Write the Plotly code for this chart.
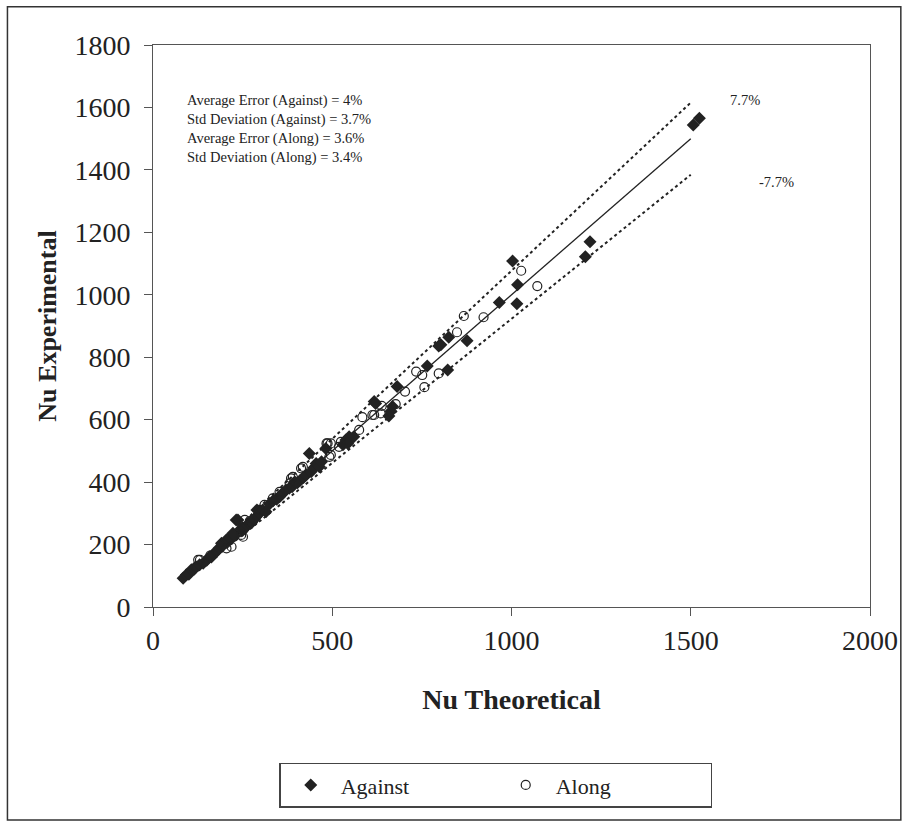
import plotly.graph_objects as go

# Against (filled diamonds)
against_x = [84, 93, 100, 107, 115, 120, 130, 140, 150, 158, 163, 168, 177, 185, 191, 198, 205, 212, 215,
             223, 228, 232, 237, 245, 250, 256, 262, 269, 275, 282, 288, 290, 297, 306, 315, 325, 335, 345,
             353, 357, 362, 371, 380, 388, 395, 403, 410, 420, 427, 436, 441, 448, 455, 460, 464, 470, 482,
             530, 538, 543, 547, 552, 543, 560, 617, 621, 658, 663, 668, 681, 765, 797, 803, 825, 876, 822,
             966, 1003, 1015, 1017, 1206, 1219, 1507, 1524]
against_y = [92, 103, 105, 119, 122, 128, 135, 140, 150, 161, 160, 170, 177, 190, 204, 200, 215, 212, 222,
             236, 228, 279, 279, 250, 245, 252, 262, 268, 270, 280, 289, 311, 300, 311, 305, 330, 340, 345,
             353, 359, 364, 375, 380, 385, 400, 398, 405, 415, 423, 492, 433, 445, 460, 455, 449, 465, 508,
             520, 535, 529, 545, 540, 524, 545, 658, 652, 612, 626, 642, 706, 772, 836, 840, 864, 853, 759,
             975, 1108, 971, 1032, 1122, 1170, 1544, 1565]

# Along (open circles)
along_x = [121, 126, 131, 160, 205, 219, 246, 251, 256, 270, 297, 311, 334, 353, 381, 385, 390, 413, 418,
           484, 487, 492, 496, 496, 519, 524, 575, 584, 612, 617, 635, 638, 677, 703, 734, 751, 757, 797,
           848, 867, 922, 1027, 1072]
along_y = [129, 151, 151, 165, 188, 193, 231, 225, 279, 275, 311, 327, 348, 369, 396, 412, 417, 444, 449,
           524, 524, 481, 487, 524, 513, 529, 567, 608, 615, 615, 620, 644, 650, 690, 754, 743, 704, 748,
           880, 932, 928, 1077, 1028]

line_x = [80, 1500]
band_x = [100, 1500]
band_pct = 0.077

stats_lines = ["Average Error (Against) = 4%", "Std Deviation (Against) = 3.7%",
               "Average Error (Along) = 3.6%", "Std Deviation (Along) = 3.4%"]

x_ticks = [0, 500, 1000, 1500, 2000]
y_ticks = [0, 200, 400, 600, 800, 1000, 1200, 1400, 1600, 1800]

FONT = "Liberation Serif"
INK = "#222222"

fig = go.Figure()

fig.add_trace(go.Scatter(x=line_x, y=line_x, mode="lines", line=dict(color=INK, width=1.3),
                         showlegend=False, hoverinfo="skip"))
fig.add_trace(go.Scatter(x=band_x, y=[v * (1 + band_pct) for v in band_x], mode="lines",
                         line=dict(color=INK, width=2, dash="dot"), showlegend=False, hoverinfo="skip"))
fig.add_trace(go.Scatter(x=band_x, y=[v * (1 - band_pct) for v in band_x], mode="lines",
                         line=dict(color=INK, width=2, dash="dot"), showlegend=False, hoverinfo="skip"))

fig.add_trace(go.Scatter(x=against_x, y=against_y, mode="markers", name="Against",
                         marker=dict(symbol="diamond", size=10, color=INK, line=dict(width=0))))
fig.add_trace(go.Scatter(x=along_x, y=along_y, mode="markers", name="Along",
                         marker=dict(symbol="circle-open", size=9, color=INK, line=dict(width=1.2, color=INK))))

fig.add_annotation(x=0.045, y=0.92, xref="paper", yref="paper", xanchor="left", yanchor="top",
                   text="<br>".join(stats_lines), showarrow=False, align="left",
                   font=dict(family=FONT, size=14.5, color=INK))
fig.add_annotation(x=1650, y=1625, text="7.7%", showarrow=False, font=dict(family=FONT, size=14.5, color=INK))
fig.add_annotation(x=1738, y=1360, text="-7.7%", showarrow=False, font=dict(family=FONT, size=14.5, color=INK))

# outer frame
fig.add_shape(type="rect", xref="paper", yref="paper", x0=-0.203, x1=1.043, y0=-0.379, y1=1.068,
              line=dict(color="#333333", width=1.5), layer="below")

axis_common = dict(showgrid=False, zeroline=False, showline=True, linecolor="#555555", linewidth=1,
                   mirror=True, ticks="outside", ticklen=8, tickcolor="#555555",
                   tickfont=dict(family=FONT, size=28, color=INK))

fig.update_layout(
    width=910, height=827,
    paper_bgcolor="white", plot_bgcolor="white",
    margin=dict(l=153, r=38, t=45, b=220),
    xaxis=dict(range=[0, 2000], tickvals=x_ticks, **axis_common,
               title=dict(text="<b>Nu Theoretical</b>", font=dict(family=FONT, size=28, color=INK), standoff=34)),
    yaxis=dict(range=[0, 1800], tickvals=y_ticks, **axis_common, ticklabelstandoff=8,
               title=dict(text="<b>Nu Experimental</b>", font=dict(family=FONT, size=26, color=INK), standoff=10)),
    legend=dict(orientation="h", x=0.478, y=-0.317, xanchor="center", yanchor="middle",
                bordercolor="#444444", borderwidth=1.5, bgcolor="white",
                font=dict(family=FONT, size=22, color=INK), entrywidth=150, itemwidth=50),
    showlegend=True,
)

fig.write_html("out.html", config={"displayModeBar": False},
               post_script="document.body.style.margin='0px';")
